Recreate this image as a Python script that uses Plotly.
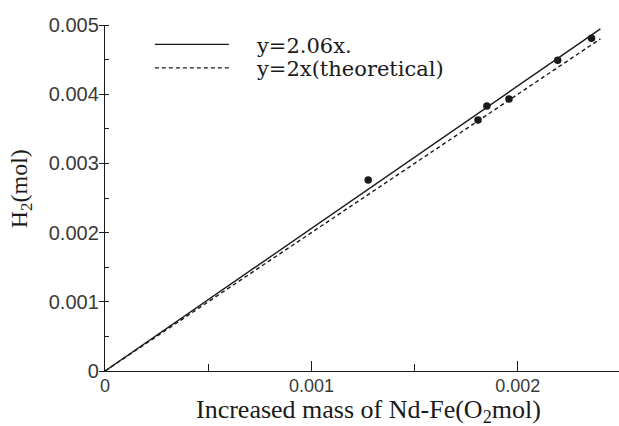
import plotly.graph_objects as go

# Measured H2 vs increased mass of Nd-Fe (O2 mol)
x_obs = [0.001275, 0.001807, 0.00185, 0.001957, 0.002193, 0.002357]
y_obs = [0.00276, 0.003627, 0.00383, 0.00393, 0.00449, 0.00481]

# Fitted and theoretical lines
x_line = [0.0, 0.0024]
slope_fit = 2.06
slope_theory = 2.0
labels = ["y=2.06x.", "y=2x(theoretical)"]

x_ticks = [0, 0.001, 0.002]
x_ticklabels = ["0", "0.001", "0.002"]
y_ticks = [0, 0.001, 0.002, 0.003, 0.004, 0.005]
y_ticklabels = ["0", "0.001", "0.002", "0.003", "0.004", "0.005"]

serif = "Liberation Serif, Times New Roman, serif"
wide_serif = "DejaVu Serif, serif"
sans = "Liberation Sans, Arial, sans-serif"
ink = "#1a1a1a"
label_ink = "#3a3a3a"

fig = go.Figure()
fig.add_trace(go.Scatter(
    x=x_line, y=[slope_fit * v for v in x_line], mode="lines",
    line=dict(color=ink, width=1.4), showlegend=False, cliponaxis=False))
fig.add_trace(go.Scatter(
    x=x_line, y=[slope_theory * v for v in x_line], mode="lines",
    line=dict(color=ink, width=1.4, dash="4px,3px"), showlegend=False, cliponaxis=False))
fig.add_trace(go.Scatter(
    x=x_obs, y=y_obs, mode="markers",
    marker=dict(color=ink, size=7.5), showlegend=False, cliponaxis=False))

# Legend drawn as line samples with text labels
legend_rows = [(0.944, 0.938, "solid"), (0.876, 0.872, "4px,3px")]
for (y_line, y_text, dash), text in zip(legend_rows, labels):
    fig.add_shape(type="line", xref="paper", yref="paper",
                  x0=0.097, x1=0.241, y0=y_line, y1=y_line,
                  line=dict(color=ink, width=1.4, dash=dash))
    fig.add_annotation(xref="paper", yref="paper", x=0.290, y=y_text, text=text,
                       showarrow=False, xanchor="left", yanchor="middle",
                       font=dict(family=wide_serif, size=21, color=ink))

# Axis titles
fig.add_annotation(xref="paper", yref="paper", x=0.512, y=-0.116,
                   text="Increased mass of Nd-Fe(O<sub>2</sub>mol)",
                   showarrow=False, xanchor="center", yanchor="middle",
                   font=dict(family=serif, size=26, color=ink))
fig.add_annotation(xref="paper", yref="paper", x=-0.163, y=0.526,
                   text="H<sub>2</sub>(mol)", textangle=-90,
                   showarrow=False, xanchor="center", yanchor="middle",
                   font=dict(family=serif, size=24, color=ink))

fig.update_layout(
    width=619, height=426,
    margin=dict(l=105, r=0, t=25, b=55),
    paper_bgcolor="white", plot_bgcolor="white",
    xaxis=dict(
        range=[0, 0.00249], showgrid=False, zeroline=False,
        showline=True, linecolor=ink, linewidth=1.4,
        tickmode="array", tickvals=x_ticks, ticktext=x_ticklabels,
        ticks="inside", ticklen=10, tickcolor=ink, tickwidth=1,
        ticklabelstandoff=-2,
        tickfont=dict(family=sans, size=18, color=label_ink),
        minor=dict(dtick=0.0005, tick0=0, ticks="inside", ticklen=7, tickcolor=ink),
    ),
    yaxis=dict(
        range=[0, 0.005], showgrid=False, zeroline=False,
        showline=True, linecolor=ink, linewidth=1.4,
        tickmode="array", tickvals=y_ticks, ticktext=y_ticklabels,
        ticks="outside", ticklen=5, tickcolor=ink, tickwidth=1,
        ticklabelstandoff=-4,
        tickfont=dict(family=sans, size=20, color=label_ink),
        minor=dict(dtick=0.0005, tick0=0, ticks="inside", ticklen=4, tickcolor=ink),
    ),
    # companion axis supplying the inner half of the major y ticks
    yaxis2=dict(
        range=[0, 0.005], overlaying="y", anchor="x", side="left",
        showgrid=False, zeroline=False, showline=False, showticklabels=False,
        tickmode="array", tickvals=y_ticks,
        ticks="inside", ticklen=5, tickcolor=ink, tickwidth=1,
    ),
)

fig.write_html("out.html")
